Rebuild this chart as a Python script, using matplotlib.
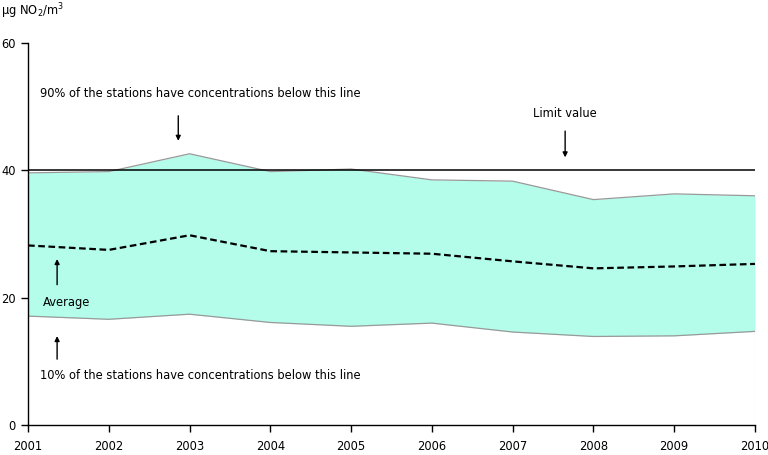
# NO2 concentrations at stations, 2001-2010
import numpy as np
import matplotlib
matplotlib.use('Agg')
import matplotlib.pyplot as plt

# Data
years = [2001, 2002, 2003, 2004, 2005, 2006, 2007, 2008, 2009, 2010]
p90 = [39.6, 39.8, 42.6, 39.8, 40.2, 38.5, 38.3, 35.4, 36.3, 36.0]
avg = [28.2, 27.5, 29.8, 27.3, 27.1, 26.9, 25.7, 24.6, 24.9, 25.3]
p10 = [17.1, 16.6, 17.4, 16.1, 15.5, 16.0, 14.6, 13.9, 14.0, 14.7]
limit = 40
yticks = [0, 20, 40, 60]

plt.rcParams['font.family'] = 'DejaVu Sans'
plt.rcParams['font.size'] = 8.3

fig = plt.figure(figsize=(7.68, 4.55), dpi=100)
ax = fig.add_axes([0.0365, 0.066, 0.9465, 0.8395])

# Band between 10th and 90th percentile
ax.fill_between(years, p10, p90, color='#b3fdea', linewidth=0)
ax.plot(years, p90, color='#999999', lw=0.9)
ax.plot(years, p10, color='#999999', lw=0.9)
ax.plot([years[-1], years[-1]], [p10[-1], p90[-1]], color='#bbbbbb', lw=0.8)
ax.plot([years[-1], years[-1]], [0, p10[-1]], color='#cccccc', lw=0.8)

# Limit value and average
ax.axhline(limit, color='black', lw=1.1)
ax.plot(years, avg, color='black', lw=1.6, ls=(0, (3, 1.6)))

ax.set_xlim(years[0], years[-1])
ax.set_ylim(0, 60)
ax.set_xticks(years)
ax.set_yticks(yticks)
for s in ['top', 'right']:
    ax.spines[s].set_visible(False)
ax.spines['left'].set_linewidth(1.0)
ax.spines['bottom'].set_linewidth(1.0)
ax.tick_params(direction='out', length=5, width=1.0, pad=4, labelsize=8.3)
ax.tick_params(axis='x', pad=6)

# Annotations
arrow = dict(arrowstyle='-|>', color='black', lw=1.0, mutation_scale=7)
ax.text(2001.15, 52, '90% of the stations have concentrations below this line',
        ha='left', va='center')
ax.annotate('', xy=(2002.86, 44.2), xytext=(2002.86, 49.0), arrowprops=arrow)
ax.text(2007.65, 48.9, 'Limit value', ha='center', va='center')
ax.annotate('', xy=(2007.65, 41.6), xytext=(2007.65, 46.6), arrowprops=arrow)
ax.text(2001.19, 19.2, 'Average', ha='left', va='center')
ax.annotate('', xy=(2001.36, 26.5), xytext=(2001.36, 21.6), arrowprops=arrow)
ax.text(2001.15, 7.7, '10% of the stations have concentrations below this line',
        ha='left', va='center')
ax.annotate('', xy=(2001.36, 14.4), xytext=(2001.36, 9.9), arrowprops=arrow)

fig.text(0.001, 0.975, r'µg NO$_2$/m$^3$', ha='left', va='center', fontsize=8.3)

fig.savefig('out.png', dpi=100)
